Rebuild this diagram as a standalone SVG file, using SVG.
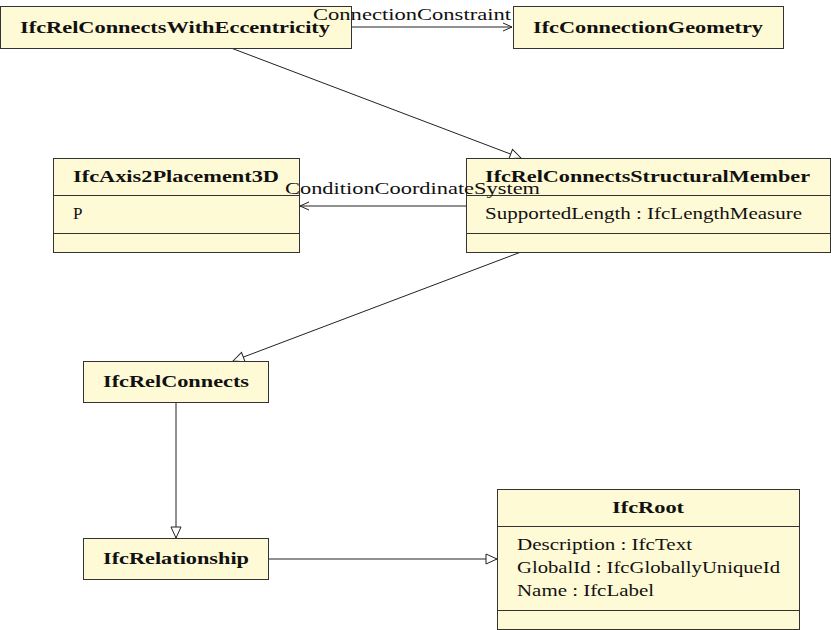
<svg xmlns="http://www.w3.org/2000/svg" width="831" height="630" viewBox="0 0 831 630">
<style>
.box{fill:#fffad6;stroke:#333;stroke-width:1}
.div{stroke:#333;stroke-width:1}
text{font-family:'Liberation Serif','DejaVu Serif',serif;font-size:17px;fill:#111}
.t{font-weight:bold}
.m{text-anchor:middle}
.c{stroke:#222;stroke-width:1;fill:none}
</style>
<defs>
<marker id="open" markerWidth="12" markerHeight="10" refX="10" refY="5" orient="auto" markerUnits="userSpaceOnUse">
<path d="M1,1 L10,5 L1,9" fill="none" stroke="#222" stroke-width="1"/>
</marker>
<marker id="tri" markerWidth="14" markerHeight="14" refX="12" refY="6" orient="auto" markerUnits="userSpaceOnUse">
<path d="M1,1 L12,6 L1,11 Z" fill="#fff" stroke="#222" stroke-width="1"/>
</marker>
</defs>
<rect width="831" height="630" fill="#fff"/>
<g id="connectors">
<line class="c" x1="351" y1="27" x2="512" y2="27" marker-end="url(#open)"/>
<line class="c" x1="231" y1="48" x2="521" y2="158" marker-end="url(#tri)"/>
<line class="c" x1="466" y1="206" x2="300" y2="206" marker-end="url(#open)"/>
<line class="c" x1="521" y1="252" x2="233" y2="361" marker-end="url(#tri)"/>
<line class="c" x1="176" y1="402" x2="176" y2="538" marker-end="url(#tri)"/>
<line class="c" x1="268" y1="559" x2="497" y2="559" marker-end="url(#tri)"/>
</g>
<g id="IfcRelConnectsWithEccentricity">
<rect class="box" x="0.5" y="6.5" width="351" height="42"/>
<text class="t" x="20" y="33" textLength="310" lengthAdjust="spacingAndGlyphs">IfcRelConnectsWithEccentricity</text>
</g>
<g id="IfcConnectionGeometry">
<rect class="box" x="513.5" y="6.5" width="270" height="42"/>
<text class="t" x="533" y="33" textLength="230" lengthAdjust="spacingAndGlyphs">IfcConnectionGeometry</text>
</g>
<g id="IfcAxis2Placement3D">
<rect class="box" x="53.5" y="158.5" width="246" height="94"/>
<line class="div" x1="53.5" y1="195.5" x2="299.5" y2="195.5"/>
<line class="div" x1="53.5" y1="233.5" x2="299.5" y2="233.5"/>
<text class="t" x="73" y="182" textLength="206" lengthAdjust="spacingAndGlyphs">IfcAxis2Placement3D</text>
<text x="73" y="219">P</text>
</g>
<g id="IfcRelConnectsStructuralMember">
<rect class="box" x="466.5" y="158.5" width="364" height="94"/>
<line class="div" x1="466.5" y1="195.5" x2="830.5" y2="195.5"/>
<line class="div" x1="466.5" y1="233.5" x2="830.5" y2="233.5"/>
<text class="t" x="485" y="182" textLength="325" lengthAdjust="spacingAndGlyphs">IfcRelConnectsStructuralMember</text>
<text x="485" y="219" textLength="317" lengthAdjust="spacingAndGlyphs">SupportedLength : IfcLengthMeasure</text>
</g>
<g id="IfcRelConnects">
<rect class="box" x="83.5" y="361.5" width="185" height="41"/>
<text class="t" x="103" y="387" textLength="146" lengthAdjust="spacingAndGlyphs">IfcRelConnects</text>
</g>
<g id="IfcRelationship">
<rect class="box" x="83.5" y="538.5" width="185" height="41"/>
<text class="t" x="103" y="564" textLength="146" lengthAdjust="spacingAndGlyphs">IfcRelationship</text>
</g>
<g id="IfcRoot">
<rect class="box" x="497.5" y="489.5" width="302" height="140"/>
<line class="div" x1="497.5" y1="526.5" x2="799.5" y2="526.5"/>
<line class="div" x1="497.5" y1="610.5" x2="799.5" y2="610.5"/>
<text class="t" x="612" y="513" textLength="72" lengthAdjust="spacingAndGlyphs">IfcRoot</text>
<text x="517" y="550" textLength="175" lengthAdjust="spacingAndGlyphs">Description : IfcText</text>
<text x="517" y="573" textLength="263" lengthAdjust="spacingAndGlyphs">GlobalId : IfcGloballyUniqueId</text>
<text x="517" y="596" textLength="137" lengthAdjust="spacingAndGlyphs">Name : IfcLabel</text>
</g>
<g id="labels">
<text x="313" y="20" textLength="198" lengthAdjust="spacingAndGlyphs">ConnectionConstraint</text>
<text x="285" y="194" textLength="255" lengthAdjust="spacingAndGlyphs">ConditionCoordinateSystem</text>
</g>
</svg>
